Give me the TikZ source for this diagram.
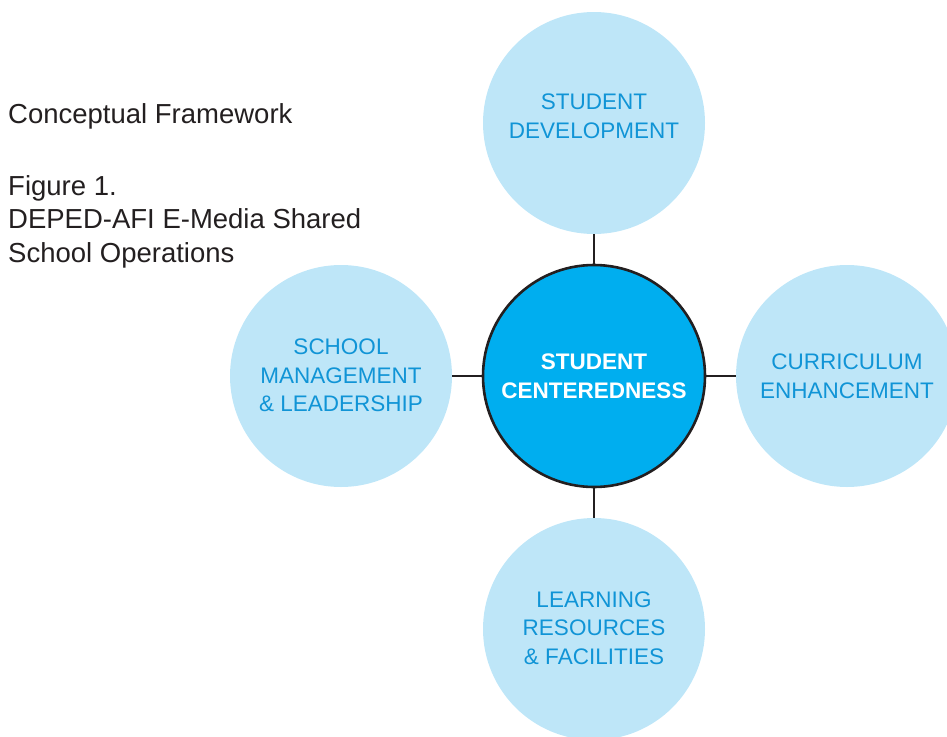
\documentclass[tikz,border=0pt]{standalone}
\usepackage{fontspec}
\setmainfont{Liberation Sans}
\definecolor{lightc}{RGB}{190,230,248}
\definecolor{mainc}{RGB}{0,174,239}
\definecolor{labc}{RGB}{16,148,214}
\definecolor{inkc}{RGB}{35,31,32}
\tikzset{
  satcircle/.style={circle,fill=lightc,minimum size=222pt,inner sep=0pt},
  hubcircle/.style={circle,fill=mainc,draw=inkc,line width=2.6pt,minimum size=222pt,inner sep=0pt},
  lbl/.style={align=center,text=labc,inner sep=0pt,font=\fontsize{22.5}{28.5}\selectfont},
  mlbl/.style={align=center,text=white,inner sep=0pt,font=\fontsize{22.5}{28.5}\selectfont\bfseries},
  captxt/.style={anchor=base west,inner sep=0pt,text=inkc,font=\fontsize{27.5}{33.5}\selectfont},
  link/.style={draw=inkc,line width=2.8pt}
}
\begin{document}
\begin{tikzpicture}[x=1pt,y=-1pt]
\useasboundingbox (0,0) rectangle (947,736);
\node[satcircle] (top) at (594,123) {};
\node[satcircle] (left) at (341,376) {};
\node[satcircle] (right) at (847,376) {};
\node[satcircle] (bottom) at (594,629) {};
\node[hubcircle] (mid) at (594,376) {};
\draw[link] (top) -- (mid);
\draw[link] (left) -- (mid);
\draw[link] (right) -- (mid);
\draw[link] (bottom) -- (mid);
\node[mlbl] (midl) at (594,376) {STUDENT\\CENTEREDNESS};
\node[lbl] (topl) at (594,116.5) {STUDENT\\DEVELOPMENT};
\node[lbl] (leftl) at (341,375.5) {SCHOOL\\MANAGEMENT\\\&\ LEADERSHIP};
\node[lbl] (rightl) at (847,376) {CURRICULUM\\ENHANCEMENT};
\node[lbl] (bottoml) at (594,628) {LEARNING\\RESOURCES\\\&\ FACILITIES};
\node[captxt] (t1) at (8,123) {Conceptual Framework};
\node[captxt] (t2) at (8,195) {Figure 1.};
\node[captxt] (t3) at (8,228) {DEPED-AFI E-Media Shared};
\node[captxt] (t4) at (8,262) {School Operations};
\end{tikzpicture}
\end{document}
